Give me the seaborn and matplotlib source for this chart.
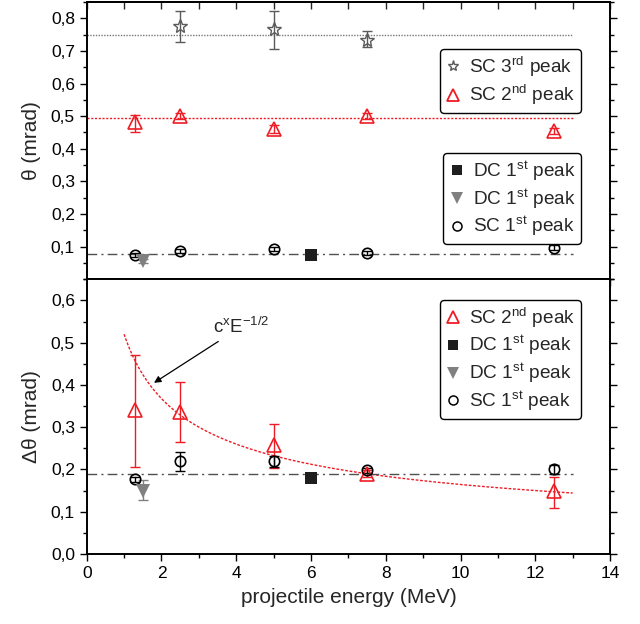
import numpy as np
import pandas as pd
import matplotlib
matplotlib.use("Agg")
import matplotlib.pyplot as plt
import seaborn as sns
from matplotlib.lines import Line2D
from matplotlib.ticker import MultipleLocator, FuncFormatter, FixedLocator

# ---------------- data ----------------
# top panel: theta (mrad)
sc3_E = [2.5, 5.0, 7.5]
sc3_theta = [0.775, 0.766, 0.735]
sc3_lo = [0.049, 0.060, 0.024]
sc3_hi = [0.048, 0.057, 0.025]

sc2_E = [1.3, 2.5, 5.0, 7.5, 12.5]
sc2_theta = [0.481, 0.500, 0.460, 0.500, 0.455]
sc2_lo = [0.028, 0.010, 0.012, 0.010, 0.010]
sc2_hi = [0.023, 0.010, 0.012, 0.010, 0.010]

sc1_E = [1.3, 2.5, 5.0, 7.5, 12.5]
sc1_theta = [0.074, 0.088, 0.092, 0.082, 0.097]
sc1_err = [0.006, 0.006, 0.006, 0.006, 0.007]

dcsq_E = [6.0]
dcsq_theta = [0.073]
dctri_E = [1.5]
dctri_theta = [0.056]
dctri_err = [0.005]

sc3_mean = 0.75
sc2_mean = 0.495
sc1_mean = 0.078
mean_line_E = [0.0, 13.0]

# bottom panel: delta theta (mrad)
sc2_dE = [1.3, 2.5, 5.0, 7.5, 12.5]
sc2_dtheta = [0.340, 0.335, 0.259, 0.190, 0.150]
sc2_dlo = [0.135, 0.071, 0.056, 0.008, 0.040]
sc2_dhi = [0.132, 0.071, 0.049, 0.008, 0.032]

sc1_dE = [1.3, 2.5, 5.0, 7.5, 12.5]
sc1_dtheta = [0.177, 0.219, 0.219, 0.198, 0.200]
sc1_derr = [0.006, 0.022, 0.013, 0.006, 0.010]

dcsq_dE = [6.0]
dcsq_dtheta = [0.179]
dctri_dE = [1.5]
dctri_dtheta = [0.150]
dctri_dlo = [0.022]
dctri_dhi = [0.025]

sc1_dmean = 0.19
fit_c = 0.52
fit_E_range = [1.0, 13.0]

# ---------------- style ----------------
sns.set_theme(style="ticks")
plt.rcParams["font.family"] = ["Liberation Sans", "DejaVu Sans"]
plt.rcParams["mathtext.default"] = "regular"

RED = "#ee1c25"
STAR = "#5a5a5a"
TRI = "#808080"
SQ = "#1e1e1e"
DASHDOT = "#505050"

fig = plt.figure(figsize=(6.4, 6.24), dpi=100)
ax_top = fig.add_axes([0.1355, 0.5524, 0.8177, 0.4444])
ax_bot = fig.add_axes([0.1355, 0.1122, 0.8177, 0.4402])

comma = FuncFormatter(lambda v, p: f"{v:.1f}".replace(".", ","))

def style_axis(ax):
    for s in ax.spines.values():
        s.set_linewidth(1.4)
        s.set_color("black")
        s.set_visible(True)
    ax.set_xlim(0, 14)
    ax.xaxis.set_major_locator(MultipleLocator(2))
    ax.xaxis.set_minor_locator(MultipleLocator(1))
    ax.tick_params(which="both", direction="out", right=True, top=False,
                   colors="black", labelsize=12.5, width=1.0)
    ax.tick_params(which="major", length=5)
    ax.tick_params(which="minor", length=3)
    ax.yaxis.set_major_formatter(comma)
    ax.grid(False)

def eb(ax, x, y, lo, hi, marker, color, ms, mfc="none", mew=1.2):
    ax.errorbar(x, y, yerr=[lo, hi], fmt="none", ecolor=color,
                elinewidth=1.0, capsize=3.5, capthick=1.0, zorder=3)
    ax.plot(x, y, linestyle="none", marker=marker, ms=ms, mfc=mfc,
            mec=color, mew=mew, zorder=4)

dashdot = (0, (7, 3, 1.5, 3))

# ---------------- top panel ----------------
style_axis(ax_top)
ax_top.set_ylim(0, 0.85)
ax_top.yaxis.set_major_locator(FixedLocator([0.1, 0.2, 0.3, 0.4, 0.5, 0.6, 0.7, 0.8]))
ax_top.yaxis.set_minor_locator(MultipleLocator(0.05))
ax_top.tick_params(axis="x", labelbottom=False)
sec = ax_top.secondary_xaxis("top")
sec.xaxis.set_major_locator(MultipleLocator(1))
sec.tick_params(direction="in", length=5, width=1.0, labeltop=False)
sec.spines["top"].set_linewidth(1.4)

sns.lineplot(x=mean_line_E, y=[sc3_mean] * 2, ax=ax_top, color="#777777",
             linestyle=(0, (1, 1)), linewidth=1.0, zorder=2)
sns.lineplot(x=mean_line_E, y=[sc2_mean] * 2, ax=ax_top, color=RED,
             linestyle=(0, (1.5, 1.2)), linewidth=1.0, zorder=2)
sns.lineplot(x=mean_line_E, y=[sc1_mean] * 2, ax=ax_top, color=DASHDOT,
             linestyle=dashdot, linewidth=1.0, zorder=2)

eb(ax_top, sc3_E, sc3_theta, sc3_lo, sc3_hi, "*", STAR, 10, mew=1.0)
eb(ax_top, sc2_E, sc2_theta, sc2_lo, sc2_hi, "^", RED, 9.5)
eb(ax_top, sc1_E, sc1_theta, sc1_err, sc1_err, "o", "black", 7.5)
eb(ax_top, dctri_E, dctri_theta, dctri_err, dctri_err, "v", TRI, 9.5, mfc=TRI, mew=0)
sns.scatterplot(x=dcsq_E, y=dcsq_theta, ax=ax_top, marker="s", s=70,
                color=SQ, edgecolor=SQ, linewidth=0, zorder=5)

ax_top.set_ylabel("θ (mrad)", fontsize=15, labelpad=7)
ax_top.set_xlabel("")

leg_kw = dict(frameon=True, fancybox=True, edgecolor="black", framealpha=1,
              fontsize=13.7, handlelength=0.8, handletextpad=0.45,
              labelspacing=0.22, borderpad=0.3, borderaxespad=0,
              borderaxespad_=None) if False else dict(
              frameon=True, fancybox=True, edgecolor="black", framealpha=1,
              fontsize=13.7, handlelength=0.8, handletextpad=0.45,
              labelspacing=0.22, borderpad=0.3, borderaxespad=0,
              loc="upper right")

h1 = [Line2D([], [], ls="none", marker="*", ms=8, mfc="none", mec=STAR, mew=1.0),
      Line2D([], [], ls="none", marker="^", ms=9, mfc="none", mec=RED, mew=1.3)]
l1 = ["SC 3$^{rd}$ peak", "SC 2$^{nd}$ peak"]
leg1 = ax_top.legend(h1, l1, bbox_to_anchor=(0.945, 0.83), **leg_kw)
leg1.get_frame().set_linewidth(1.0)
ax_top.add_artist(leg1)

h2 = [Line2D([], [], ls="none", marker="s", ms=7, mfc=SQ, mec=SQ, mew=0),
      Line2D([], [], ls="none", marker="v", ms=9, mfc=TRI, mec=TRI, mew=0),
      Line2D([], [], ls="none", marker="o", ms=6.5, mfc="none", mec="black", mew=1.1)]
l2 = ["DC 1$^{st}$ peak", "DC 1$^{st}$ peak", "SC 1$^{st}$ peak"]
leg2 = ax_top.legend(h2, l2, bbox_to_anchor=(0.945, 0.454), **leg_kw)
leg2.get_frame().set_linewidth(1.0)

# ---------------- bottom panel ----------------
style_axis(ax_bot)
ax_bot.set_ylim(0, 0.65)
ax_bot.yaxis.set_major_locator(FixedLocator([0.0, 0.1, 0.2, 0.3, 0.4, 0.5, 0.6]))
ax_bot.yaxis.set_minor_locator(MultipleLocator(0.05))

fit_E = np.linspace(fit_E_range[0], fit_E_range[1], 200)
sns.lineplot(x=fit_E, y=fit_c / np.sqrt(fit_E), ax=ax_bot, color=RED,
             linestyle=(0, (2, 1.2)), linewidth=1.0, zorder=2)
sns.lineplot(x=mean_line_E, y=[sc1_dmean] * 2, ax=ax_bot, color=DASHDOT,
             linestyle=dashdot, linewidth=1.0, zorder=2)

eb(ax_bot, sc2_dE, sc2_dtheta, sc2_dlo, sc2_dhi, "^", RED, 9.5)
eb(ax_bot, sc1_dE, sc1_dtheta, sc1_derr, sc1_derr, "o", "black", 7.5)
eb(ax_bot, dctri_dE, dctri_dtheta, dctri_dlo, dctri_dhi, "v", TRI, 9.5, mfc=TRI, mew=0)
sns.scatterplot(x=dcsq_dE, y=dcsq_dtheta, ax=ax_bot, marker="s", s=70,
                color=SQ, edgecolor=SQ, linewidth=0, zorder=5)

ax_bot.annotate("c$^{x}$E$^{-1/2}$", xy=(1.80, 0.405), xytext=(3.38, 0.538),
                fontsize=13.5, va="center", ha="left",
                arrowprops=dict(arrowstyle="-|>", color="black", lw=0.9,
                                mutation_scale=10, shrinkA=2, shrinkB=0))

ax_bot.set_ylabel("Δθ (mrad)", fontsize=15, labelpad=7)
ax_bot.set_xlabel("projectile energy (MeV)", fontsize=15, labelpad=5)

h3 = [Line2D([], [], ls="none", marker="^", ms=9, mfc="none", mec=RED, mew=1.3),
      Line2D([], [], ls="none", marker="s", ms=7, mfc=SQ, mec=SQ, mew=0),
      Line2D([], [], ls="none", marker="v", ms=9, mfc=TRI, mec=TRI, mew=0),
      Line2D([], [], ls="none", marker="o", ms=6.5, mfc="none", mec="black", mew=1.1)]
l3 = ["SC 2$^{nd}$ peak", "DC 1$^{st}$ peak", "DC 1$^{st}$ peak", "SC 1$^{st}$ peak"]
leg3 = ax_bot.legend(h3, l3, bbox_to_anchor=(0.945, 0.925), **leg_kw)
leg3.get_frame().set_linewidth(1.0)

fig.savefig("out.png", dpi=100)
